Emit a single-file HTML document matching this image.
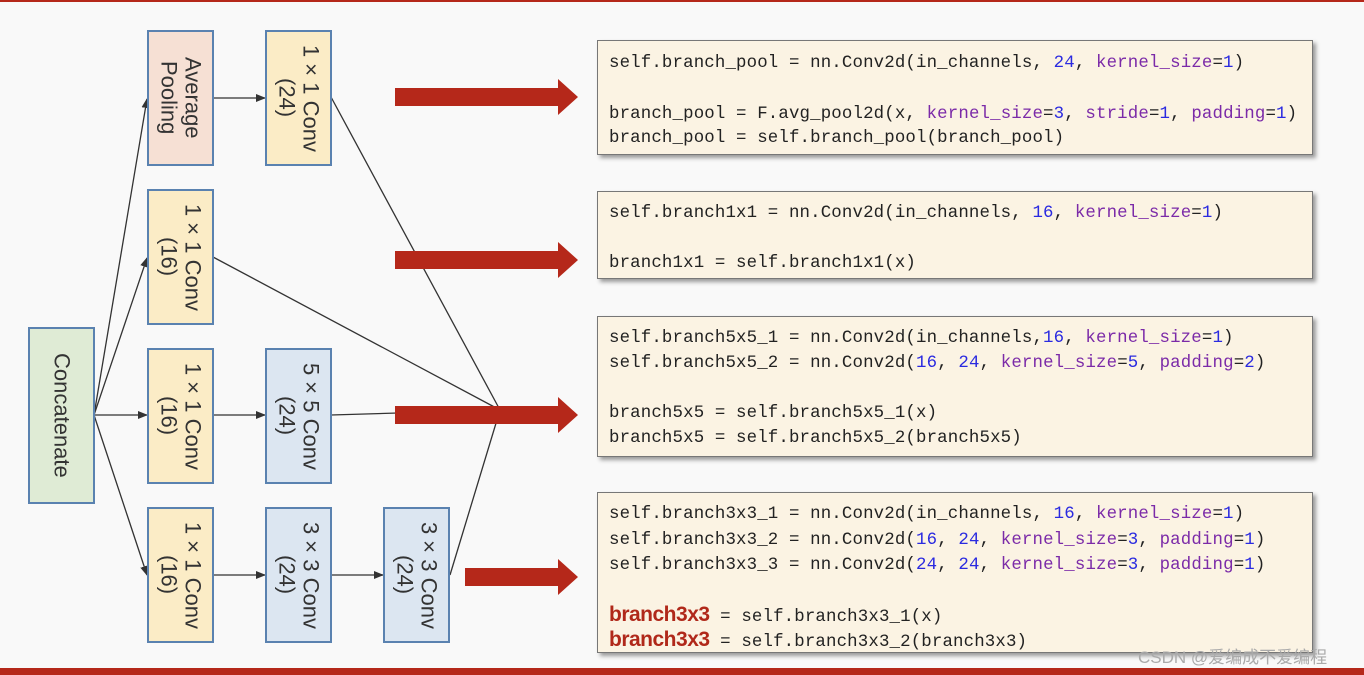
<!DOCTYPE html><html><head><style>
body{margin:0;width:1364px;height:675px;background:#f9f9f9;position:relative;overflow:hidden;font-family:"Liberation Sans",sans-serif}
.b{position:absolute;border:2px solid #5a82b0;box-sizing:border-box;display:flex;align-items:center;justify-content:center}
.b span{writing-mode:vertical-rl;font-size:22px;color:#333;text-align:center;line-height:24px}
.y{background:#fbecc6}.p{background:#f6e0d4}.bl{background:#dce6f1}.g{background:#dfebd5}
.c{position:absolute;left:597px;width:716px;background:#fbf3e3;border:1px solid #777;box-shadow:3px 3px 4px #999;box-sizing:border-box;font-family:"Liberation Mono",monospace;font-size:17.4px;color:#222;padding-left:11px;letter-spacing:0.15px}
.l{position:absolute;left:11px;white-space:pre;line-height:25px}
.n{color:#2a2ae0}.k{color:#7b2aa8}.r{color:#b0281a;font-family:"Liberation Sans",sans-serif;font-weight:bold;font-size:21px;letter-spacing:-0.5px}
</style></head><body>
<div style="position:absolute;left:0;top:0;width:1364px;height:2px;background:#b5281a"></div>
<div style="position:absolute;left:0;top:668px;width:1364px;height:7px;background:#b5281a"></div>
<svg style="position:absolute;left:0;top:0" width="1364" height="675">
<defs><marker id="a" markerWidth="10" markerHeight="8" refX="9" refY="4" orient="auto" markerUnits="userSpaceOnUse"><path d="M0,0L10,4L0,8z" fill="#333"/></marker></defs>
<g stroke="#333" stroke-width="1.3" fill="none">
<line x1="94" y1="415" x2="147" y2="99" marker-end="url(#a)"/>
<line x1="94" y1="415" x2="147" y2="258" marker-end="url(#a)"/>
<line x1="94" y1="415" x2="147" y2="415" marker-end="url(#a)"/>
<line x1="94" y1="415" x2="147" y2="575" marker-end="url(#a)"/>
<line x1="213" y1="98" x2="265" y2="98" marker-end="url(#a)"/>
<line x1="213" y1="415" x2="265" y2="415" marker-end="url(#a)"/>
<line x1="213" y1="575" x2="265" y2="575" marker-end="url(#a)"/>
<line x1="331" y1="575" x2="383" y2="575" marker-end="url(#a)"/>
<line x1="331" y1="97" x2="500" y2="410"/>
<line x1="213" y1="257" x2="500" y2="410"/>
<line x1="331" y1="415" x2="500" y2="410"/>
<line x1="450" y1="575" x2="500" y2="410"/>
</g>
<g fill="#b5281a">
<path d="M395,88H558V79L578,97L558,115V106H395z"/>
<path d="M395,251H558V242L578,260L558,278V269H395z"/>
<path d="M395,406H558V397L578,415L558,433V424H395z"/>
<path d="M465,568H558V559L578,577L558,595V586H465z"/>
</g></svg>
<div class="b g" style="left:28px;top:327px;width:67px;height:177px"><span>Concatenate</span></div>
<div class="b p" style="left:147px;top:30px;width:67px;height:136px"><span>Average<br>Pooling</span></div>
<div class="b y" style="left:265px;top:30px;width:67px;height:136px"><span>1×1 Conv<br>(24)</span></div>
<div class="b y" style="left:147px;top:189px;width:67px;height:136px"><span>1×1 Conv<br>(16)</span></div>
<div class="b y" style="left:147px;top:348px;width:67px;height:136px"><span>1×1 Conv<br>(16)</span></div>
<div class="b bl" style="left:265px;top:348px;width:67px;height:136px"><span>5×5 Conv<br>(24)</span></div>
<div class="b y" style="left:147px;top:507px;width:67px;height:136px"><span>1×1 Conv<br>(16)</span></div>
<div class="b bl" style="left:265px;top:507px;width:67px;height:136px"><span>3×3 Conv<br>(24)</span></div>
<div class="b bl" style="left:383px;top:507px;width:67px;height:136px"><span>3×3 Conv<br>(24)</span></div>

<div class="c" style="top:40px;height:115px">
<div class="l" style="top:10px">self.branch_pool = nn.Conv2d(in_channels, <span class="n">24</span>, <span class="k">kernel_size</span>=<span class="n">1</span>)</div>
<div class="l" style="top:61px">branch_pool = F.avg_pool2d(x, <span class="k">kernel_size</span>=<span class="n">3</span>, <span class="k">stride</span>=<span class="n">1</span>, <span class="k">padding</span>=<span class="n">1</span>)</div>
<div class="l" style="top:85px">branch_pool = self.branch_pool(branch_pool)</div>
</div>
<div class="c" style="top:191px;height:88px">
<div class="l" style="top:9px">self.branch1x1 = nn.Conv2d(in_channels, <span class="n">16</span>, <span class="k">kernel_size</span>=<span class="n">1</span>)</div>
<div class="l" style="top:59px">branch1x1 = self.branch1x1(x)</div>
</div>
<div class="c" style="top:316px;height:141px">
<div class="l" style="top:9px">self.branch5x5_1 = nn.Conv2d(in_channels,<span class="n">16</span>, <span class="k">kernel_size</span>=<span class="n">1</span>)</div>
<div class="l" style="top:34px">self.branch5x5_2 = nn.Conv2d(<span class="n">16</span>, <span class="n">24</span>, <span class="k">kernel_size</span>=<span class="n">5</span>, <span class="k">padding</span>=<span class="n">2</span>)</div>
<div class="l" style="top:84px">branch5x5 = self.branch5x5_1(x)</div>
<div class="l" style="top:109px">branch5x5 = self.branch5x5_2(branch5x5)</div>
</div>
<div class="c" style="top:492px;height:161px">
<div class="l" style="top:9px">self.branch3x3_1 = nn.Conv2d(in_channels, <span class="n">16</span>, <span class="k">kernel_size</span>=<span class="n">1</span>)</div>
<div class="l" style="top:35px">self.branch3x3_2 = nn.Conv2d(<span class="n">16</span>, <span class="n">24</span>, <span class="k">kernel_size</span>=<span class="n">3</span>, <span class="k">padding</span>=<span class="n">1</span>)</div>
<div class="l" style="top:60px">self.branch3x3_3 = nn.Conv2d(<span class="n">24</span>, <span class="n">24</span>, <span class="k">kernel_size</span>=<span class="n">3</span>, <span class="k">padding</span>=<span class="n">1</span>)</div>
<div class="l" style="top:109px"><span class="r">branch3x3</span> = self.branch3x3_1(x)</div>
<div class="l" style="top:134px"><span class="r">branch3x3</span> = self.branch3x3_2(branch3x3)</div>
</div>
<div style="position:absolute;left:1138px;top:643px;font-size:17px;color:#aaa;font-family:'Liberation Sans','Noto Sans CJK SC',sans-serif">CSDN @爱编成不爱编程</div>
</body></html>
